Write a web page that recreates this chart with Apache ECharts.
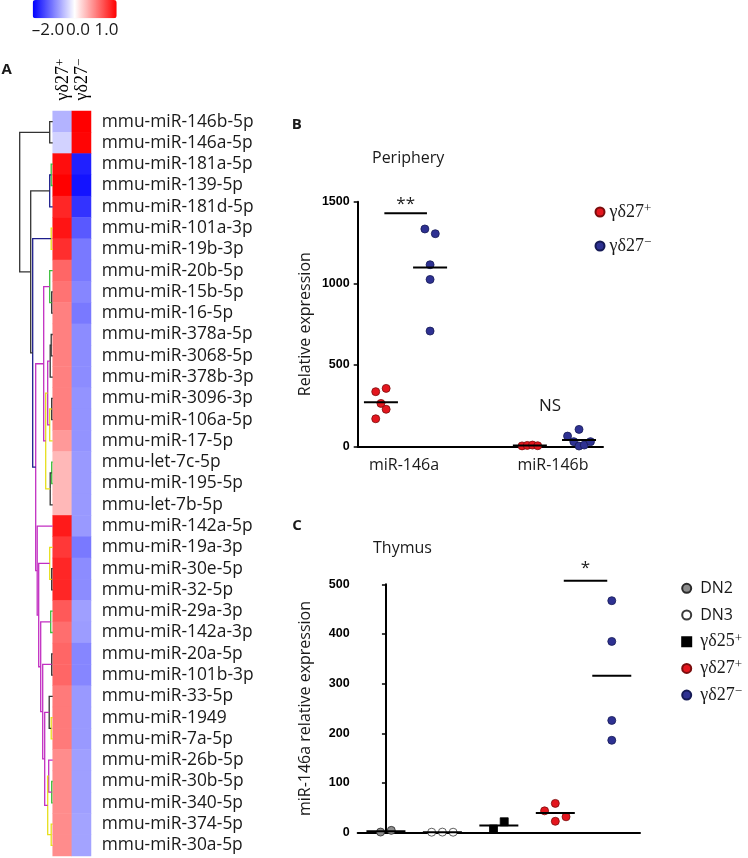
<!DOCTYPE html>
<html><head><meta charset="utf-8">
<script src="https://cdn.jsdelivr.net/npm/echarts@6/dist/echarts.min.js"></script>
<style>html,body{margin:0;padding:0;background:#fff}#c{width:748px;height:858px}</style>
</head><body><div id="c"></div>
<script>
// ---------- Panel A: heatmap data ----------
const miRNAs = ['mmu-miR-146b-5p','mmu-miR-146a-5p','mmu-miR-181a-5p','mmu-miR-139-5p','mmu-miR-181d-5p','mmu-miR-101a-3p','mmu-miR-19b-3p','mmu-miR-20b-5p','mmu-miR-15b-5p','mmu-miR-16-5p','mmu-miR-378a-5p','mmu-miR-3068-5p','mmu-miR-378b-3p','mmu-miR-3096-3p','mmu-miR-106a-5p','mmu-miR-17-5p','mmu-let-7c-5p','mmu-miR-195-5p','mmu-let-7b-5p','mmu-miR-142a-5p','mmu-miR-19a-3p','mmu-miR-30e-5p','mmu-miR-32-5p','mmu-miR-29a-3p','mmu-miR-142a-3p','mmu-miR-20a-5p','mmu-miR-101b-3p','mmu-miR-33-5p','mmu-miR-1949','mmu-miR-7a-5p','mmu-miR-26b-5p','mmu-miR-30b-5p','mmu-miR-340-5p','mmu-miR-374-5p','mmu-miR-30a-5p'];
const heatColumns = ['γδ27+','γδ27−'];
const gd27posScores = [-0.6,-0.35,0.95,1.0,0.85,0.92,0.82,0.6,0.55,0.5,0.5,0.5,0.5,0.5,0.5,0.4,0.28,0.28,0.28,0.9,0.78,0.85,0.85,0.65,0.57,0.6,0.6,0.52,0.52,0.52,0.45,0.45,0.45,0.45,0.45];
const gd27negScores = [1.0,0.98,-1.75,-1.85,-1.6,-1.3,-1.05,-1.05,-0.95,-1.05,-0.9,-0.9,-0.9,-0.85,-0.85,-0.85,-0.8,-0.8,-0.8,-0.8,-1.05,-0.9,-0.9,-0.75,-0.78,-0.95,-0.95,-0.8,-0.8,-0.8,-0.75,-0.75,-0.75,-0.72,-0.72];
const colorbarTicks = ['–2.0','0.0','1.0'];
// dendrogram merges: [childA, childB, height, colour key]; numbers = rows, 'Nk' = merge k
const dendroMerges = [
  [0,1,3,'k'],[2,3,1.5,'g'],['N1',4,3,'b'],[5,6,1.5,'y'],[8,9,1,'k'],[7,'N4',3,'g'],
  [10,11,1.5,'k'],['N6',12,2.5,'k'],[13,14,1,'k'],['N8',15,3,'y'],['N7','N9',5,'m'],
  [16,17,1,'g'],['N11',18,2.5,'k'],['N10','N12',7,'y'],['N5','N13',9,'m'],
  [21,22,1,'k'],[20,'N15',3,'y'],[23,24,2,'g'],[25,26,1,'k'],[28,29,1.5,'y'],[27,'N19',3.5,'k'],
  [31,32,1,'g'],[30,'N21',4,'m'],[33,34,1.5,'y'],['N22','N23',5,'y'],['N20','N24',8,'m'],
  ['N18','N25',10,'m'],['N17','N26',12,'m'],['N16','N27',14,'m'],[19,'N28',15.5,'m'],
  ['N14','N29',17,'m'],['N3','N30',20,'b'],['N2','N31',22,'k'],['N0','N32',33,'k']
];
// ---------- Panel B: periphery ----------
const periphCategories = ['miR-146a','miR-146b'];
const periphPos146a = [337,357,265,229,171];
const periphNeg146a = [1333,1304,1114,1024,708];
const periphPos146b = [5,8,10,6];
const periphNeg146b = [65,106,31,4,10,31];
const periphYTicks = [0,500,1000,1500];
// ---------- Panel C: thymus ----------
const thymusGroups = ['DN2','DN3','γδ25+','γδ27+','γδ27−'];
const thymusDN2 = [1.3,4.7];
const thymusDN3 = [1,1.2,1];
const thymusGd25pos = [7.4,22];
const thymusGd27pos = [44,59,23,32];
const thymusGd27neg = [467,385,226,186];
const thymusYTicks = [0,100,200,300,400,500];

// ---------- layout-only helpers (not data) ----------
const slotsPos146a = [-0.5,0.5,0,0.5,-0.5];
const slotsNeg146a = [-0.5,0.5,0,0,0];
const slotsPos146b = [-0.75,-0.25,0.25,0.75];
const slotsNeg146b = [-1.1,0,-0.5,0,0.5,1.1];
const slotsThymus = [[-0.5,0.5],[-1,0,1],[-0.5,0.5],[-1,0,0,1],[0,0,0,0]];

const RED = '#e4161e', RED_B = '#7a0d0d', BLUE = '#2e3192', BLUE_B = '#151a55';
const dendroColors = {k:'#333333', b:'#1d1d8c', m:'#c22fc2', y:'#e6df1c', g:'#3cbf3c'};
const TXT = '#1a1a1a';
const SANS = 'Open Sans';

const heatData = [];
miRNAs.forEach((m, i) => {
  [gd27posScores[i], gd27negScores[i]].forEach((v, j) => {
    const t = v < 0 ? v / 2 : v; // colour-bar position: -2..0 left half, 0..1 right half
    heatData.push([j, i, v, t]);
  });
});

const nodePos = [], nodeH = [];
function childInfo(c) {
  if (typeof c === 'number') return [c, 0];
  const k = +c.slice(1); return [nodePos[k], nodeH[k]];
}
const dendroLines = dendroMerges.map((d, k) => {
  const [ya, ha] = childInfo(d[0]), [yb, hb] = childInfo(d[1]);
  nodePos[k] = (ya + yb) / 2; nodeH[k] = d[2];
  return {coords: [[ha, ya], [d[2], ya], [d[2], yb], [hb, yb]], lineStyle: {color: dendroColors[d[3]]}};
});

const B_SLOT = 0.07, B_OFF = [-0.155, 0.175];
function place(vals, slots, cx, slot) { return vals.map((v, i) => [cx + slots[i] * slot, v]); }
const bRed = place(periphPos146a, slotsPos146a, 1 + B_OFF[0], B_SLOT).concat(place(periphPos146b, slotsPos146b, 2 + B_OFF[0], B_SLOT));
const bBlue = place(periphNeg146a, slotsNeg146a, 1 + B_OFF[1], B_SLOT).concat(place(periphNeg146b, slotsNeg146b, 2 + B_OFF[1], B_SLOT));
const mean = a => a.reduce((s, x) => s + x, 0) / a.length;
const bMeans = [[1 + B_OFF[0], mean(periphPos146a)], [1 + B_OFF[1], mean(periphNeg146a)], [2 + B_OFF[0], mean(periphPos146b)], [2 + B_OFF[1], mean(periphNeg146b)]];

const thymusVals = [thymusDN2, thymusDN3, thymusGd25pos, thymusGd27pos, thymusGd27neg];
const C_SLOT = 0.19;
const cMeans = thymusVals.map((a, g) => [g, mean(a)]);
const thymusStyles = [
  {symbol:'circle', color:'#8c8c8c', borderColor:'#2a2a2a'},
  {symbol:'circle', color:'#ffffff', borderColor:'#3a3a3a'},
  {symbol:'rect', color:'#000000', borderColor:'#000000'},
  {symbol:'circle', color:RED, borderColor:RED_B},
  {symbol:'circle', color:BLUE, borderColor:BLUE_B}
];

const sigB = [[1 - 0.132, 1 + 0.154, 1430, '**', 9], [2, 2, null, 'NS', 0]];
const sigC = [[3.15, 3.92, 507, '*', 13]];

const chart = echarts.init(document.getElementById('c'), null, {renderer: 'canvas'});

function richName(n) {
  if (n.startsWith('γδ')) return '{g|' + n.slice(0, 4) + '}{sup|' + n.slice(4) + '}';
  return '{s|' + n + '}';
}
const richStyles = {
  g: {fontFamily: 'Liberation Serif', fontSize: 18, color: TXT},
  sup: {fontFamily: 'Liberation Serif', fontSize: 13, color: TXT, verticalAlign: 'top'},
  s: {fontFamily: SANS, fontSize: 16, color: TXT}
};

function meanRender(half) {
  return function (params, api) {
    const p = api.coord([api.value(0), api.value(1)]);
    return {type: 'line', shape: {x1: p[0] - half, y1: p[1], x2: p[0] + half, y2: p[1]}, style: {stroke: '#000', lineWidth: 2}};
  };
}
function sigRender(list, ns) {
  return function (params, api) {
    const s = list[params.dataIndex];
    const children = [];
    if (s[2] !== null) {
      const a = api.coord([s[0], s[2]]), b = api.coord([s[1], s[2]]);
      children.push({type: 'line', shape: {x1: a[0], y1: a[1], x2: b[0], y2: b[1]}, style: {stroke: '#000', lineWidth: 2}});
      children.push({type: 'text', x: (a[0] + b[0]) / 2, y: a[1] - s[4], style: {text: s[3], font: '17px "Open Sans"', fill: TXT, align: 'center', verticalAlign: 'middle'}});
    } else {
      const a = api.coord([s[0], ns]);
      children.push({type: 'text', x: a[0] - 3, y: a[1], style: {text: s[3], font: '17px "Open Sans"', fill: TXT, align: 'center', verticalAlign: 'middle'}});
    }
    return {type: 'group', children};
  };
}

const yTickLabel = {fontFamily: 'Liberation Sans', fontWeight: 'bold', fontSize: 12.5, color: '#000', margin: 8, formatter: v => String(v)};
const axisLine2 = {show: true, lineStyle: {color: '#000', width: 2}};

const option = {
  animation: false,
  backgroundColor: '#fff',
  grid: [
    {left: 52.7, top: 111, width: 38.3, height: 745},
    {left: 12.7, top: 111, width: 40, height: 745},
    {left: 357.7, top: 201.7, width: 245.3, height: 245},
    {left: 357.7, top: 584.3, width: 282.3, height: 248.4}
  ],
  xAxis: [
    {gridIndex: 0, type: 'category', data: heatColumns, position: 'top', axisLine: {show: false}, axisTick: {show: false}, axisLabel: {show: false}},
    {gridIndex: 1, type: 'value', min: 0, max: 40, inverse: true, show: false},
    {gridIndex: 2, type: 'value', min: 0.689, max: 2.336, splitLine: {show: false}, axisTick: {show: false}, axisLine: axisLine2,
     axisLabel: {customValues: [1, 2], formatter: v => periphCategories[Math.round(v) - 1], fontFamily: SANS, fontSize: 16, color: TXT, margin: 11}},
    {gridIndex: 3, type: 'value', min: -0.5, max: 4.5, splitLine: {show: false}, axisTick: {show: false}, axisLabel: {show: false}, axisLine: axisLine2}
  ],
  yAxis: [
    {gridIndex: 0, type: 'category', data: miRNAs, inverse: true, position: 'right', axisLine: {show: false}, axisTick: {show: false},
     axisLabel: {interval: 0, margin: 10.7, fontFamily: SANS, fontSize: 17.4, color: TXT}},
    {gridIndex: 1, type: 'value', min: -0.5, max: 34.5, inverse: true, show: false},
    {gridIndex: 2, type: 'value', min: 0, max: 1500, interval: 500, splitLine: {show: false}, axisLine: axisLine2,
     axisTick: {show: true, length: 4, lineStyle: {width: 1.5, color: '#000'}}, axisLabel: yTickLabel,
     name: 'Relative expression', nameLocation: 'middle', nameGap: 44, nameRotate: 90, nameTextStyle: {fontFamily: SANS, fontSize: 16, color: TXT}},
    {gridIndex: 3, type: 'value', min: 0, max: 500, interval: 100, splitLine: {show: false}, axisLine: axisLine2,
     axisTick: {show: true, length: 4, lineStyle: {width: 1.5, color: '#000'}}, axisLabel: yTickLabel,
     name: 'miR-146a relative expression', nameLocation: 'middle', nameGap: 44, nameRotate: 90, nameTextStyle: {fontFamily: SANS, fontSize: 16, color: TXT}}
  ],
  visualMap: [{
    type: 'continuous', seriesIndex: 0, dimension: 3, min: -1, max: 1, orient: 'horizontal',
    left: 32.7, top: 0, itemWidth: 18.3, itemHeight: 84, padding: 0, calculable: false, hoverLink: false,
    inRange: {color: ['#0000ff', '#ffffff', '#ff0000']}
  }],
  legend: [
    {data: ['γδ27+', 'γδ27−'], orient: 'vertical', left: 594.5, top: 202, itemWidth: 9, itemHeight: 9, itemGap: 14, padding: 0,
     formatter: richName, textStyle: {lineHeight: 20, rich: richStyles}, selectedMode: false},
    {data: thymusGroups, orient: 'vertical', left: 681.2, top: 578.3, itemWidth: 9, itemHeight: 9, itemGap: 6.7, padding: 0,
     formatter: richName, textStyle: {lineHeight: 20, padding: [0, 0, 0, 4], rich: richStyles}, selectedMode: false}
  ],
  graphic: [
    {type: 'text', x: 6.7, y: 70, style: {text: 'A', font: 'bold 15px "Open Sans"', fill: TXT, align: 'center', verticalAlign: 'middle'}},
    {type: 'text', x: 296.7, y: 124.3, style: {text: 'B', font: 'bold 15px "Open Sans"', fill: TXT, align: 'center', verticalAlign: 'middle'}},
    {type: 'text', x: 297, y: 526, style: {text: 'C', font: 'bold 15px "Open Sans"', fill: TXT, align: 'center', verticalAlign: 'middle'}},
    {type: 'text', x: 372, y: 158, style: {text: 'Periphery', font: '16px "Open Sans"', fill: TXT, align: 'left', verticalAlign: 'middle'}},
    {type: 'text', x: 373, y: 548, style: {text: 'Thymus', font: '16px "Open Sans"', fill: TXT, align: 'left', verticalAlign: 'middle'}},
    {type: 'text', x: 31.7, y: 30, style: {text: colorbarTicks[0], font: '17px "Open Sans"', fill: TXT, align: 'left', verticalAlign: 'middle'}},
    {type: 'text', x: 78, y: 30, style: {text: colorbarTicks[1], font: '17px "Open Sans"', fill: TXT, align: 'center', verticalAlign: 'middle'}},
    {type: 'text', x: 118.5, y: 30, style: {text: colorbarTicks[2], font: '17px "Open Sans"', fill: TXT, align: 'right', verticalAlign: 'middle'}}
  ],
  series: [
    {type: 'heatmap', xAxisIndex: 0, yAxisIndex: 0, data: heatData, encode: {x: 0, y: 1}, itemStyle: {borderWidth: 0}, emphasis: {disabled: true}},
    {type: 'lines', coordinateSystem: 'cartesian2d', xAxisIndex: 1, yAxisIndex: 1, polyline: true, data: dendroLines, lineStyle: {width: 1.3, opacity: 1}, silent: true},
    {type: 'scatter', name: 'γδ27+', xAxisIndex: 2, yAxisIndex: 2, data: bRed, symbol: 'circle', symbolSize: 8, itemStyle: {color: RED, borderColor: RED_B, borderWidth: 0.8, opacity: 1}},
    {type: 'scatter', name: 'γδ27−', xAxisIndex: 2, yAxisIndex: 2, data: bBlue, symbol: 'circle', symbolSize: 8, itemStyle: {color: BLUE, borderColor: BLUE_B, borderWidth: 0.8, opacity: 1}},
    {type: 'custom', xAxisIndex: 2, yAxisIndex: 2, data: bMeans, renderItem: meanRender(17), clip: false, silent: true, z: 5},
    {type: 'custom', xAxisIndex: 2, yAxisIndex: 2, data: sigB.map(s => [s[0], s[2] === null ? 249 : s[2]]), renderItem: sigRender(sigB, 249), clip: false, silent: true},
    ...thymusVals.map((vals, g) => ({
      type: 'scatter', name: thymusGroups[g], xAxisIndex: 3, yAxisIndex: 3,
      data: vals.map((v, i) => [g + slotsThymus[g][i] * C_SLOT, v]),
      symbol: thymusStyles[g].symbol, symbolSize: 8,
      itemStyle: {color: thymusStyles[g].color, borderColor: thymusStyles[g].borderColor, borderWidth: 0.8, opacity: 1}
    })),
    {type: 'custom', xAxisIndex: 3, yAxisIndex: 3, data: cMeans, renderItem: meanRender(19.5), clip: false, silent: true, z: 5},
    {type: 'custom', xAxisIndex: 3, yAxisIndex: 3, data: sigC.map(s => [s[0], s[2]]), renderItem: sigRender(sigC, 0), clip: false, silent: true}
  ]
};
chart.setOption(option);

// column headers of the heatmap, placed at the category positions of the heatmap x axis
const headerEls = heatColumns.map((c, j) => {
  const p = chart.convertToPixel({xAxisIndex: 0, yAxisIndex: 0}, [j, 0]);
  return {type: 'text', id: 'hdr' + j, x: p[0] + 1, y: 100.5, rotation: Math.PI / 2,
    style: {text: richName(c), rich: richStyles, align: 'left', verticalAlign: 'middle'}};
});
chart.setOption({graphic: headerEls});
</script></body></html>
